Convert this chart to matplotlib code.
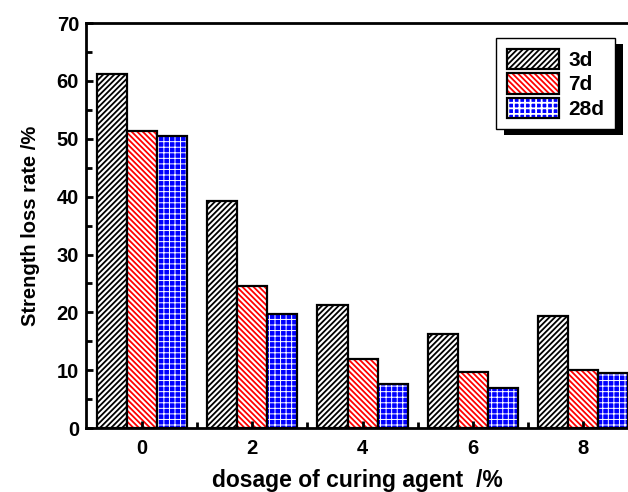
import numpy as np
import matplotlib.pyplot as plt
from matplotlib.legend_handler import HandlerTuple
from matplotlib.ticker import MultipleLocator
from matplotlib.patches import Rectangle
from matplotlib.transforms import IdentityTransform

plt.rcParams['font.family'] = ['Liberation Sans', 'DejaVu Sans']
plt.rcParams['font.weight'] = 'bold'
plt.rcParams['hatch.linewidth'] = 1.3

dosage = [0, 2, 4, 6, 8]
loss_3d = [61.2, 39.2, 21.3, 16.2, 19.4]
loss_7d = [51.3, 24.5, 12.0, 9.7, 10.1]
loss_28d = [50.5, 19.8, 7.6, 6.9, 9.5]

fig = plt.figure(figsize=(6.28, 4.92), dpi=100)
ax = fig.add_axes([0.137, 0.130, 0.863, 0.823])

x = np.array(dosage, dtype=float)
w = 0.545

b1 = ax.bar(x - w, loss_3d, w, facecolor='white', edgecolor='black', hatch='//////', linewidth=1.6)
# red hatch, black outline drawn on top
b2h = ax.bar(x, loss_7d, w, facecolor='white', edgecolor='red', hatch='\\\\\\\\\\\\', linewidth=0)
b2o = ax.bar(x, loss_7d, w, fill=False, edgecolor='black', linewidth=1.6)
# blue with thin white crosses
with plt.rc_context({'hatch.linewidth': 0.7}):
    b3h = ax.bar(x + w, loss_28d, w, facecolor='blue', edgecolor='white', hatch='+++', linewidth=0)
b3o = ax.bar(x + w, loss_28d, w, fill=False, edgecolor='black', linewidth=1.6)

ax.set_xlim(-1.02, 8.82)
ax.set_ylim(0, 70)
ax.set_xticks(dosage)
ax.xaxis.set_minor_locator(plt.FixedLocator([1, 3, 5, 7]))
ax.yaxis.set_major_locator(MultipleLocator(10))
ax.yaxis.set_minor_locator(MultipleLocator(5))
ax.tick_params(which='both', direction='in', width=2, labelsize=14.5, right=False, top=False)
ax.tick_params(which='major', length=5)
ax.tick_params(which='minor', length=4)
ax.tick_params(axis='y', pad=5)
ax.tick_params(axis='x', pad=8)
for s in ax.spines.values():
    s.set_linewidth(2)
ax.spines['right'].set_visible(False)

ax.set_xlabel('dosage of curing agent  /%', fontsize=16.5, fontweight='bold', labelpad=8)
ax.set_ylabel('Strength loss rate /%', fontsize=14.5, fontweight='bold', labelpad=12)

leg = ax.legend([b1[0], (b2h[0], b2o[0]), (b3h[0], b3o[0])], ['3d', '7d', '28d'],
                handler_map={tuple: HandlerTuple(ndivide=1, pad=0)},
                loc='upper left', bbox_to_anchor=(0.757, 0.963), fontsize=15,
                fancybox=False, edgecolor='black', facecolor='white', framealpha=1,
                handlelength=2.5, handleheight=1.15, labelspacing=0.15,
                handletextpad=0.45, borderpad=0.5, borderaxespad=0)
leg.get_frame().set_linewidth(1)
leg.set_zorder(6)

# black drop shadow behind legend
fig.canvas.draw()
bb = leg.get_frame().get_window_extent()
shadow = Rectangle((bb.x0 + 8, bb.y0 - 6), bb.width, bb.height, transform=IdentityTransform(),
                   facecolor='black', edgecolor='none', zorder=5.5, clip_on=False)
ax.add_artist(shadow)

fig.savefig('out.png', dpi=100)
